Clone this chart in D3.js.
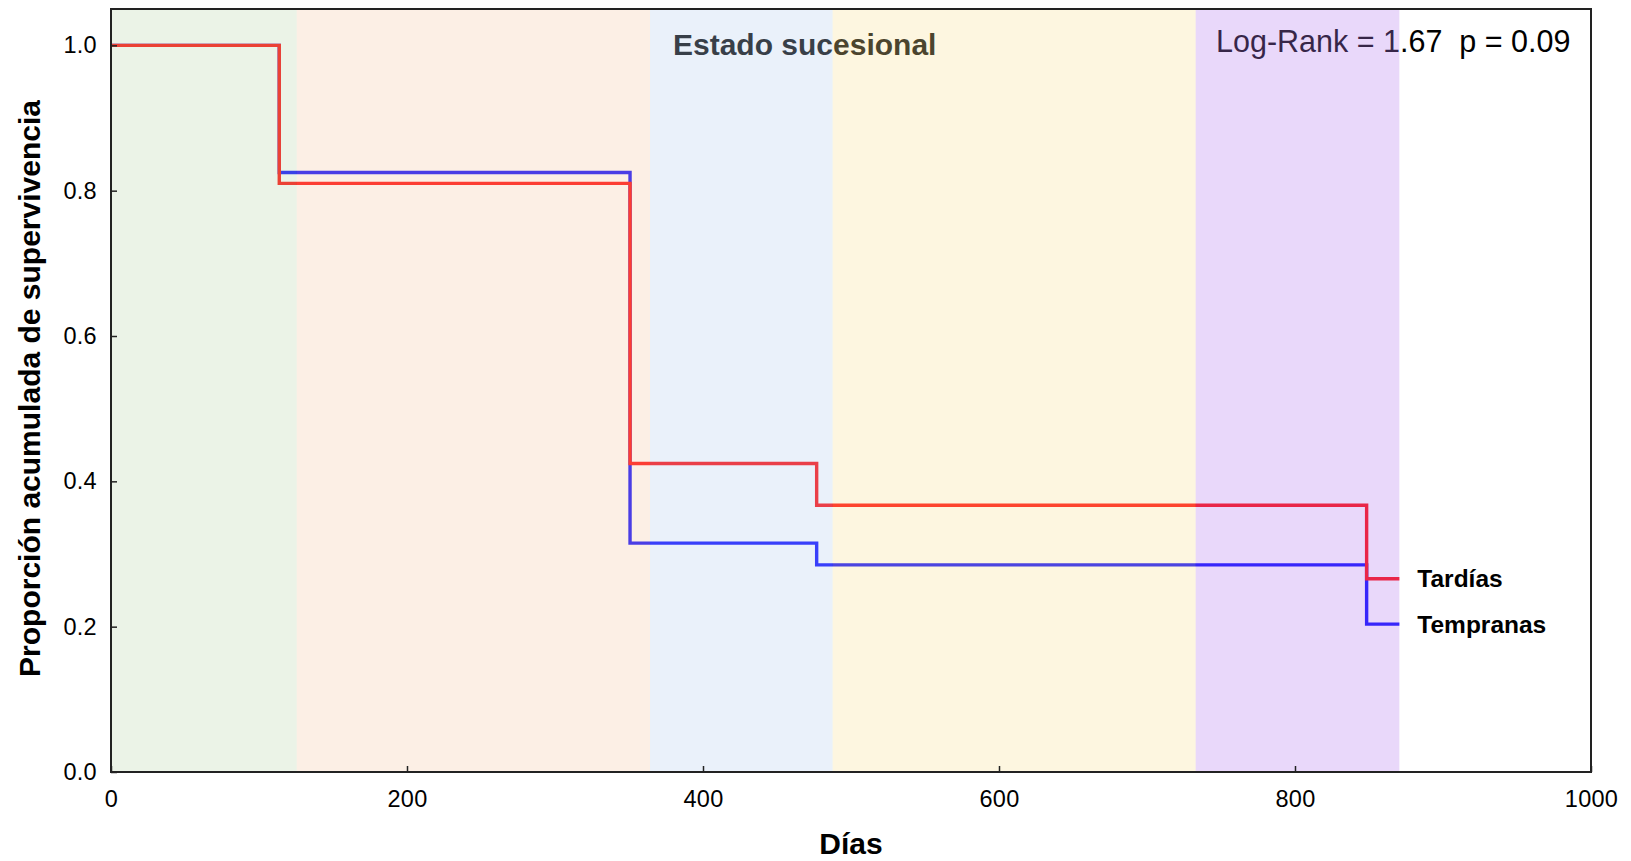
<!DOCTYPE html>
<html>
<head>
<meta charset="utf-8">
<script src="https://cdn.jsdelivr.net/npm/d3@7"></script>
<style>
  html, body { margin: 0; padding: 0; background: #fff; }
  svg { display: block; }
  text { font-family: "Liberation Sans", Arial, sans-serif; }
</style>
</head>
<body>
<svg id="chart" width="1631" height="861"></svg>
<script>
// ---- data ----
const timesTardias = [0, 113.7, 350.7, 476.8, 848.4, 870.5];
const survTardias  = [1.0, 0.81, 0.4246, 0.367, 0.266];
const timesTempranas = [0, 113.7, 350.7, 476.8, 848.4, 870.5];
const survTempranas  = [1.0, 0.825, 0.315, 0.285, 0.2035];
const seriesNames = ["Tardías", "Tempranas"];
const bandStarts = [0, 125.5, 364.2, 487.6, 732.9];
const bandEnds   = [125.5, 364.2, 487.6, 732.9, 870.5];
const bandColors = ["rgb(188,215,175)", "rgb(245,202,168)", "rgb(185,208,238)", "rgb(248,225,152)", "rgb(182,125,238)"];
const xTicks = [0, 200, 400, 600, 800, 1000];
const yTicks = [0, 0.2, 0.4, 0.6, 0.8, 1.0];
const titleText = "Estado sucesional";
const statText = "Log-Rank = 1.67  p = 0.09";
const xLabel = "Días";
const yLabel = "Proporción acumulada de supervivencia";

// ---- layout ----
const svg = d3.select("#chart");
const pLeft = 111, pRight = 1591, pTop = 9, pBottom = 772;
const x = d3.scaleLinear().domain([0, 1000]).range([pLeft, pRight]);
const y = d3.scaleLinear().domain([0, 1.05]).range([pBottom, pTop]);

function stepPoints(times, surv) {
  const pts = [];
  for (let i = 0; i < surv.length; i++) {
    pts.push([times[i], surv[i]]);
    pts.push([times[i + 1], surv[i]]);
  }
  return pts;
}
const line = d3.line().x(d => x(d[0])).y(d => y(d[1]));

const series = [
  { name: seriesNames[1], times: timesTempranas, surv: survTempranas, color: "rgb(0,0,255)" },
  { name: seriesNames[0], times: timesTardias, surv: survTardias, color: "rgb(255,0,0)" }
];

series.forEach(s => {
  svg.append("path")
    .attr("d", line(stepPoints(s.times, s.surv)))
    .attr("fill", "none")
    .attr("stroke", s.color)
    .attr("stroke-width", 3.4)
    .attr("stroke-linejoin", "miter");
});

// title & stat text (drawn under the translucent bands)
svg.append("text").attr("x", 673).attr("y", 55)
  .attr("font-size", 30).attr("font-weight", "bold").attr("fill", "#000")
  .text(titleText);
svg.append("text").attr("x", 1216).attr("y", 52)
  .attr("font-size", 30.5).attr("fill", "#000")
  .style("white-space", "pre")
  .text(statText);

// translucent bands on top
svg.append("g").selectAll("rect").data(bandStarts).join("rect")
  .attr("x", d => x(d))
  .attr("width", (d, i) => x(bandEnds[i]) - x(d))
  .attr("y", pTop)
  .attr("height", pBottom - pTop)
  .attr("fill", (d, i) => bandColors[i])
  .attr("fill-opacity", 0.3);

// series end labels
series.forEach(s => {
  const last = s.surv[s.surv.length - 1];
  svg.append("text")
    .attr("x", x(s.times[s.times.length - 1]) + 18)
    .attr("y", y(last) + 8.5)
    .attr("font-size", 24.5).attr("font-weight", "bold").attr("fill", "#000")
    .text(s.name);
});

// axes
const xAxis = d3.axisBottom(x).tickValues(xTicks).tickFormat(d3.format("d"))
  .tickSizeInner(-6).tickSizeOuter(0).tickPadding(18);
const yAxis = d3.axisLeft(y).tickValues(yTicks).tickFormat(d3.format(".1f"))
  .tickSizeInner(-6).tickSizeOuter(0).tickPadding(14);

const gx = svg.append("g").attr("transform", `translate(0,${pBottom})`).call(xAxis);
const gy = svg.append("g").attr("transform", `translate(${pLeft},0)`).call(yAxis);
[gx, gy].forEach(g => {
  g.select(".domain").remove();
  g.selectAll(".tick line").attr("stroke", "#222").attr("stroke-width", 1.5);
  g.selectAll(".tick text").attr("font-size", 23.5).attr("fill", "#000")
    .style("font-family", "'Liberation Sans', Arial, sans-serif")
    .attr("letter-spacing", "0.3px");
});

// frame
svg.append("rect")
  .attr("x", pLeft).attr("y", pTop)
  .attr("width", pRight - pLeft).attr("height", pBottom - pTop)
  .attr("fill", "none").attr("stroke", "#222").attr("stroke-width", 2);

// axis titles
svg.append("text")
  .attr("x", 851).attr("y", 854)
  .attr("text-anchor", "middle")
  .attr("font-size", 30).attr("font-weight", "bold").attr("fill", "#000")
  .text(xLabel);
svg.append("text")
  .attr("transform", `translate(40,${(pTop + pBottom) / 2 - 2}) rotate(-90)`)
  .attr("text-anchor", "middle")
  .attr("font-size", 30).attr("font-weight", "bold").attr("fill", "#000")
  .text(yLabel);
</script>
</body>
</html>
